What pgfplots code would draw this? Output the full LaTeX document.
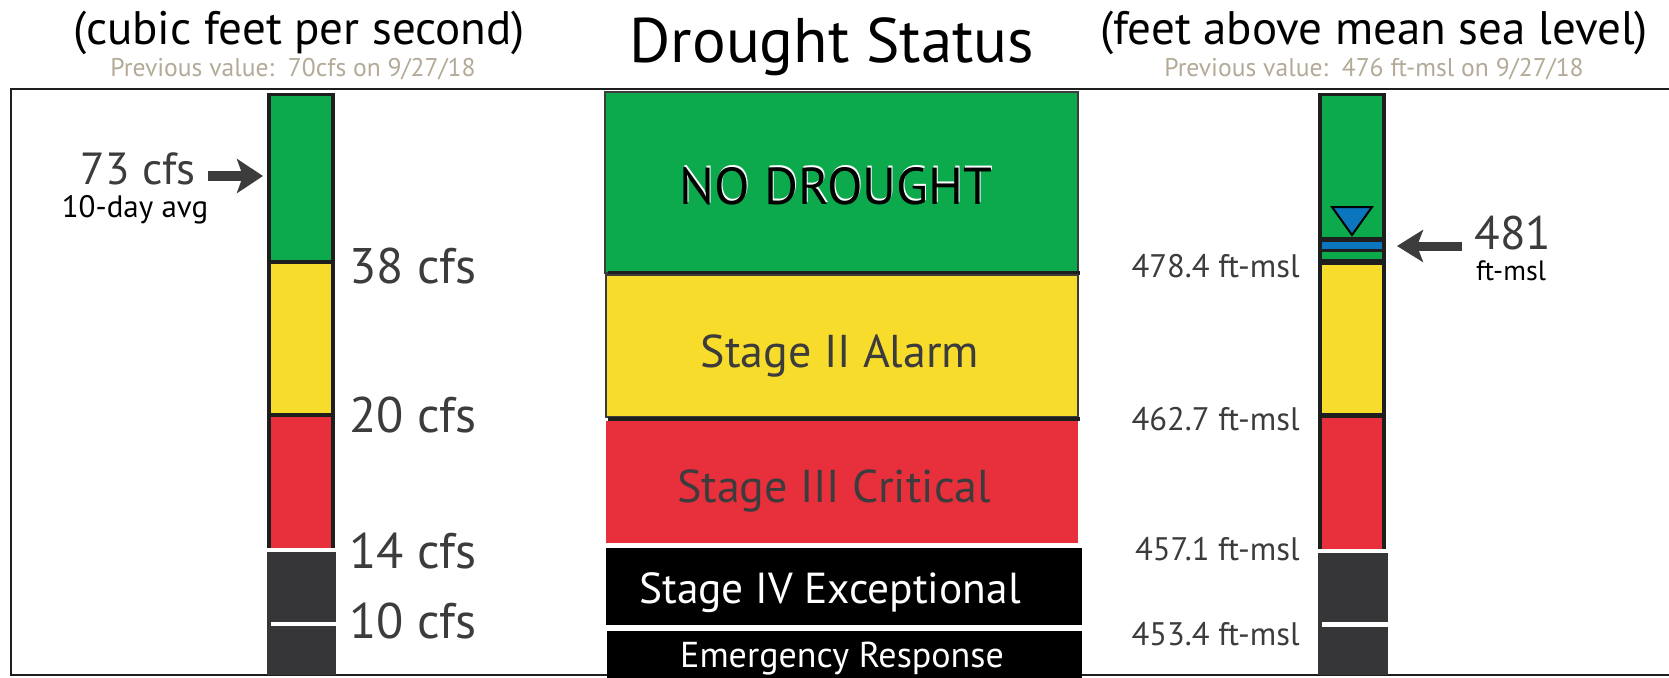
\documentclass[border=0pt]{standalone}
\usepackage{fontspec}
\setmainfont{PT Sans}
\usepackage{pgfplots}
\pgfplotsset{compat=1.18}
\usetikzlibrary{arrows.meta}
\definecolor{dgreen}{HTML}{0DAA4D}
\definecolor{dyellow}{HTML}{F7DC2B}
\definecolor{dred}{HTML}{E8303C}
\definecolor{dgray}{HTML}{363638}
\definecolor{dblue}{HTML}{0B75BE}
\definecolor{txt}{HTML}{3C3C3C}
\definecolor{prev}{HTML}{B3AA97}
\definecolor{blk}{HTML}{1E1E1E}
\newcommand{\rect}[5]{\addplot[fill=#5, draw=none] coordinates {(#1,#2) (#3,#2) (#3,#4) (#1,#4)} -- cycle;}
\newcommand{\fs}[1]{\fontsize{#1}{#1}\selectfont}
\begin{document}
\begin{tikzpicture}
\begin{axis}[
  scale only axis, width=834.5pt, height=338.5pt,
  xmin=0, xmax=1669, ymin=0, ymax=677, y dir=reverse,
  hide axis, clip=true,
]
\path (axis cs:0,0) rectangle (axis cs:1669,677);
% frame
\addplot[draw=blk, line width=1.3pt] coordinates {(1700,89) (11,89) (11,675) (1700,675)};

% left bar (flow, cfs)
\rect{267}{93}{335}{548}{blk}
\rect{271}{96}{331}{260}{dgreen}
\rect{271}{264}{331}{413}{dyellow}
\rect{271}{417}{331}{548}{dred}
\rect{270}{548}{336}{552}{white}
\rect{267}{552}{336}{675}{dgray}
\rect{271}{622}{336}{626}{white}

% right bar (lake level, ft-msl)
\rect{1318}{93}{1386}{549}{blk}
\rect{1322}{96}{1382}{237}{dgreen}
\rect{1322}{242}{1382}{249}{dblue}
\rect{1322}{252}{1382}{259}{dgreen}
\rect{1322}{265}{1382}{413}{dyellow}
\rect{1322}{418}{1382}{549}{dred}
\rect{1322}{549}{1387}{553}{white}
\rect{1318}{553}{1388}{675}{dgray}
\rect{1322}{622}{1388}{627}{white}
\addplot[fill=dblue, draw=black, line width=1pt] coordinates {(1332,207) (1372,207) (1352,235)} -- cycle;

% center status boxes
\addplot[fill=dgreen, draw=txt, line width=0.6pt] coordinates {(605,92) (1078,92) (1078,273) (605,273)} -- cycle;
\rect{608}{271}{1080}{275}{blk}
\addplot[fill=dyellow, draw=txt, line width=0.6pt] coordinates {(606,275) (1078,275) (1078,417) (606,417)} -- cycle;
\rect{608}{417}{1080}{421}{blk}
\addplot[fill=dred, draw=none] coordinates {(606,421) (1078,421) (1078,543) (606,543)} -- cycle;
\rect{606}{548}{1082}{625}{black}
\rect{607}{631}{1082}{680}{black}

% arrows
\addplot[draw=txt, line width=4.8pt, -{Stealth[length=13pt, width=17pt, inset=3pt]}] coordinates {(208,176) (263,176)};
\addplot[draw=txt, line width=4.5pt, -{Stealth[length=13pt, width=16pt, inset=3pt]}] coordinates {(1462,246) (1397,246)};

% titles
\node[anchor=base, inner sep=0, font=\fs{23.5}] at (axis cs:299,44) {(cubic feet per second)};
\node[anchor=base, inner sep=0, font=\fs{12.8}, text=prev] at (axis cs:293,76) {Previous value:\ \ 70cfs on 9/27/18};
\node[anchor=base, inner sep=0, font=\fs{31.5}] at (axis cs:832,62) {Drought Status};
\node[anchor=base, inner sep=0, font=\fs{23.5}] at (axis cs:1374,44) {(feet above mean sea level)};
\node[anchor=base, inner sep=0, font=\fs{12.8}, text=prev] at (axis cs:1374,76) {Previous value:\ \ 476 ft-msl on 9/27/18};

% current values
\node[anchor=base east, inner sep=0, font=\fs{22.5}, text=txt] at (axis cs:196,184) {73 cfs};
\node[anchor=base, inner sep=0, font=\fs{15.5}] at (axis cs:135,217) {10-day avg};
\node[anchor=base west, inner sep=0, font=\fs{23.5}, text=txt] at (axis cs:1474,249) {481};
\node[anchor=base, inner sep=0, font=\fs{14}] at (axis cs:1511,280) {ft-msl};

% left thresholds
\node[anchor=base west, inner sep=0, font=\fs{25}, text=txt] at (axis cs:349,283) {38 cfs};
\node[anchor=base west, inner sep=0, font=\fs{25}, text=txt] at (axis cs:349,432) {20 cfs};
\node[anchor=base west, inner sep=0, font=\fs{25}, text=txt] at (axis cs:349,568) {14 cfs};
\node[anchor=base west, inner sep=0, font=\fs{25}, text=txt] at (axis cs:349,638) {10 cfs};

% right thresholds
\node[anchor=base east, inner sep=0, font=\fs{16.3}, text=txt] at (axis cs:1300,277) {478.4 ft-msl};
\node[anchor=base east, inner sep=0, font=\fs{16.3}, text=txt] at (axis cs:1300,430) {462.7 ft-msl};
\node[anchor=base east, inner sep=0, font=\fs{16.3}, text=txt] at (axis cs:1300,560) {457.1 ft-msl};
\node[anchor=base east, inner sep=0, font=\fs{16.3}, text=txt] at (axis cs:1300,645) {453.4 ft-msl};

% status labels
\node[anchor=base, inner sep=0, font=\fs{26}, text=white] at (axis cs:837,202) {NO DROUGHT};
\node[anchor=base, inner sep=0, font=\fs{26}, text=black] at (axis cs:836,204) {NO DROUGHT};
\node[anchor=base, inner sep=0, font=\fs{23}, text=txt] at (axis cs:840,367) {Stage II Alarm};
\node[anchor=base, inner sep=0, font=\fs{23}, text=txt] at (axis cs:834,502) {Stage III Critical};
\node[anchor=base, inner sep=0, font=\fs{21.7}, text=white] at (axis cs:830,603) {Stage IV Exceptional};
\node[anchor=base, inner sep=0, font=\fs{18}, text=white] at (axis cs:842,667) {Emergency Response};
\end{axis}
\end{tikzpicture}
\end{document}
